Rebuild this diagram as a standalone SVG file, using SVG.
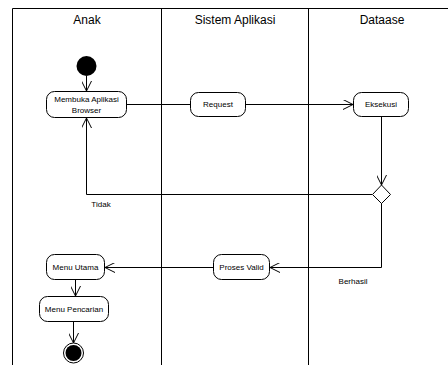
<svg xmlns="http://www.w3.org/2000/svg" width="448" height="365" viewBox="0 0 448 365">
<defs>
<style>
.lane{stroke:#000;stroke-width:1;fill:none}
.act{fill:#fff;stroke:#000;stroke-width:1}
.t{font-family:"Liberation Sans",Arial,sans-serif;font-size:8px;fill:#000;text-anchor:middle}
.h{font-family:"Liberation Sans",Arial,sans-serif;font-size:12px;fill:#000;text-anchor:middle}
.c{stroke:#000;stroke-width:1;fill:none}
</style>
<marker id="arr" viewBox="0 0 10 10" refX="10" refY="5" markerWidth="10" markerHeight="10" markerUnits="userSpaceOnUse" orient="auto">
<path d="M0,0 L10,5 L0,10" fill="none" stroke="#000" stroke-width="1"/>
</marker>
</defs>
<rect width="448" height="365" fill="#fff"/>
<g id="lanes">
<path class="lane" d="M12.5,365 V8.5 H448 M161.5,8.5 V365 M308.5,8.5 V365"/>
<text class="h" x="87" y="24">Anak</text>
<text class="h" x="235" y="24">Sistem Aplikasi</text>
<text class="h" x="382" y="24">Dataase</text>
</g>
<g id="connectors">
<path class="c" d="M86.5,76 V91" marker-end="url(#arr)"/>
<path class="c" d="M127,104.5 H190"/>
<path class="c" d="M246,104.5 H353" marker-end="url(#arr)"/>
<path class="c" d="M381.5,117 V185" marker-end="url(#arr)"/>
<path class="c" d="M372,194.5 H86.5 V118" marker-end="url(#arr)"/>
<path class="c" d="M381.5,203 V267.5 H270" marker-end="url(#arr)"/>
<path class="c" d="M213,267.5 H105" marker-end="url(#arr)"/>
<path class="c" d="M75.5,280 V296" marker-end="url(#arr)"/>
<path class="c" d="M73.5,322 V343" marker-end="url(#arr)"/>
<text class="t" x="101" y="207">Tidak</text>
<text class="t" x="353" y="284">Berhasil</text>
</g>
<g id="start"><circle cx="86.5" cy="66" r="10" fill="#000"/></g>
<g id="membuka">
<rect class="act" x="46.5" y="91.5" width="80" height="26" rx="8"/>
<text class="t" x="86.5" y="102">Membuka Aplikasi</text>
<text class="t" x="86.5" y="113">Browser</text>
</g>
<g id="request">
<rect class="act" x="190.5" y="92.5" width="55" height="24" rx="8"/>
<text class="t" x="218" y="107">Request</text>
</g>
<g id="eksekusi">
<rect class="act" x="353.5" y="92.5" width="55" height="24" rx="8"/>
<text class="t" x="381" y="107">Eksekusi</text>
</g>
<g id="decision">
<path class="act" d="M381.5,185 L390.5,194.5 L381.5,203.5 L372.5,194.5 Z"/>
</g>
<g id="proses">
<rect class="act" x="213.5" y="254.5" width="56" height="25" rx="8"/>
<text class="t" x="241.5" y="270">Proses Valid</text>
</g>
<g id="menuutama">
<rect class="act" x="46.5" y="254.5" width="58" height="25" rx="8"/>
<text class="t" x="75.5" y="270">Menu Utama</text>
</g>
<g id="menupencarian">
<rect class="act" x="39.5" y="296.5" width="69" height="25" rx="8"/>
<text class="t" x="74" y="312">Menu Pencarian</text>
</g>
<g id="end">
<circle cx="73.5" cy="353" r="10" fill="#fff" stroke="#000" stroke-width="1"/>
<circle cx="73.5" cy="353" r="8" fill="#000"/>
</g>
</svg>
